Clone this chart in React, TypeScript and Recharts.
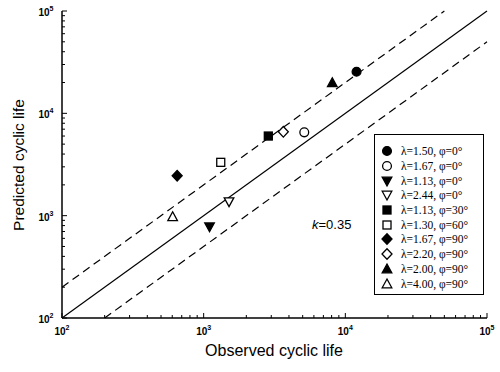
import React from 'react';
import { ScatterChart, Scatter, XAxis, YAxis, ReferenceLine } from 'recharts';

// one point per test condition
const lambdas = ['1.50', '1.67', '1.13', '2.44', '1.13', '1.30', '1.67', '2.20', '2.00', '4.00'];
const phis = [0, 0, 0, 0, 30, 60, 90, 90, 90, 90];
const observed = [12000, 5130, 1100, 1510, 2860, 1320, 650, 3650, 8090, 604];
const predicted = [25500, 6520, 780, 1370, 6000, 3320, 2450, 6600, 19900, 975];
const shapes = ['circle', 'circle', 'down', 'down', 'square', 'square', 'diamond', 'diamond', 'up', 'up'];
const filled = [true, false, true, false, true, false, true, false, true, false];

const majorTicks = [100, 1000, 10000, 100000];
const majorExp = ['2', '3', '4', '5'];
const allTicks: number[] = [];
majorTicks.forEach((d, i) => {
    allTicks.push(d);
    if (i < majorTicks.length - 1) for (let m = 2; m <= 9; m++) allTicks.push(d * m);
});

// y = x and factor-of-2 bands
const diagonal = [{ x: 100, y: 100 }, { x: 100000, y: 100000 }];
const upperBand = [{ x: 100, y: 200 }, { x: 50000, y: 100000 }];
const lowerBand = [{ x: 200, y: 100 }, { x: 100000, y: 50000 }];

const series = lambdas.map((l, i) => ({
    name: `λ=${l}, φ=${phis[i]}°`,
    data: [{ x: observed[i], y: predicted[i] }],
    shape: shapes[i],
    filled: filled[i],
}));

function Marker({ cx, cy, kind, fill }: { cx: number; cy: number; kind: string; fill: boolean }) {
    const p = { fill: fill ? '#000' : '#fff', stroke: '#000', strokeWidth: 1.3 };
    if (kind === 'circle') return <circle cx={cx} cy={cy} r={4.4} {...p} />;
    if (kind === 'square') return <rect x={cx - 4} y={cy - 4} width={8} height={8} {...p} />;
    if (kind === 'diamond')
        return <polygon points={`${cx},${cy - 5.3} ${cx + 5},${cy} ${cx},${cy + 5.3} ${cx - 5},${cy}`} {...p} />;
    if (kind === 'up')
        return <polygon points={`${cx},${cy - 5} ${cx + 4.8},${cy + 3.8} ${cx - 4.8},${cy + 3.8}`} {...p} />;
    return <polygon points={`${cx},${cy + 5} ${cx + 4.8},${cy - 3.8} ${cx - 4.8},${cy - 3.8}`} {...p} />;
}

const tickFont = { fontFamily: 'Liberation Sans, Arial, sans-serif', fontSize: 10, fontWeight: 700 };

function makeTick(side: 'bottom' | 'top' | 'left' | 'right') {
    return (props: any) => {
        const { x, y, payload } = props;
        const idx = majorTicks.indexOf(payload.value);
        const len = idx >= 0 ? 5 : 3;
        let line;
        if (side === 'bottom') line = <line x1={x} y1={y} x2={x} y2={y - len} stroke="#000" />;
        else if (side === 'top') line = <line x1={x} y1={y} x2={x} y2={y + len} stroke="#000" />;
        else if (side === 'left') line = <line x1={x} y1={y} x2={x + len} y2={y} stroke="#000" />;
        else line = <line x1={x} y1={y} x2={x - len} y2={y} stroke="#000" />;
        let label = null;
        if (idx >= 0 && side === 'bottom')
            label = (
                <text x={x} y={y + 17} textAnchor="middle" {...tickFont}>
                    10<tspan fontSize={7} dy={-5}>{majorExp[idx]}</tspan>
                </text>
            );
        if (idx >= 0 && side === 'left')
            label = (
                <text x={x - 16} y={y + 5} textAnchor="middle" {...tickFont}>
                    10<tspan fontSize={7} dy={-5}>{majorExp[idx]}</tspan>
                </text>
            );
        return (
            <g>
                {line}
                {label}
            </g>
        );
    };
}

const axisCommon = {
    type: 'number' as const,
    scale: 'log' as const,
    domain: [100, 100000],
    allowDataOverflow: true,
    ticks: allTicks,
    interval: 0,
    tickSize: 0,
    tickMargin: 0,
    tickLine: false,
    axisLine: { stroke: '#000', strokeWidth: 1.5 },
};

export default function App() {
    const sans = 'Liberation Sans, Arial, sans-serif';
    return (
        <div style={{ position: 'absolute', left: 0, top: 0, width: 500, height: 372, background: '#fff' }}>
            <ScatterChart width={500} height={372} margin={{ top: 11, right: 13, bottom: 14, left: 12 }}>
                <XAxis xAxisId="b" dataKey="x" orientation="bottom" height={40} {...axisCommon} tick={makeTick('bottom')} />
                <XAxis xAxisId="t" orientation="top" height={0} {...axisCommon} tick={makeTick('top')} />
                <YAxis yAxisId="l" dataKey="y" orientation="left" width={50} {...axisCommon} tick={makeTick('left')} />
                <YAxis yAxisId="r" orientation="right" width={0} {...axisCommon} tick={makeTick('right')} />
                <ReferenceLine xAxisId="b" yAxisId="l" segment={diagonal} stroke="#000" strokeWidth={1.2} />
                <ReferenceLine xAxisId="b" yAxisId="l" segment={upperBand} stroke="#000" strokeWidth={1.2} strokeDasharray="8 5" />
                <ReferenceLine xAxisId="b" yAxisId="l" segment={lowerBand} stroke="#000" strokeWidth={1.2} strokeDasharray="8 5" />
                {series.map((s) => (
                    <Scatter
                        key={s.name}
                        name={s.name}
                        xAxisId="b"
                        yAxisId="l"
                        data={s.data}
                        isAnimationActive={false}
                        shape={(p: any) => <Marker cx={p.cx} cy={p.cy} kind={s.shape} fill={s.filled} />}
                    />
                ))}
            </ScatterChart>

            <div
                style={{
                    position: 'absolute', left: 374, top: 134, width: 110, height: 161, boxSizing: 'border-box',
                    border: '1px solid #000', background: '#fff', paddingTop: 9,
                }}
            >
                {series.map((s) => (
                    <div key={s.name} style={{ height: 14.7, display: 'flex', alignItems: 'center' }}>
                        <svg width={24} height={14} style={{ flex: 'none' }}>
                            <Marker cx={12} cy={7} kind={s.shape} fill={s.filled} />
                        </svg>
                        <span style={{ fontFamily: 'Liberation Serif, Times New Roman, serif', fontSize: 11.5, marginLeft: 2, whiteSpace: 'nowrap' }}>
                            {s.name}
                        </span>
                    </div>
                ))}
            </div>

            <div style={{ position: 'absolute', left: 312, top: 217, fontFamily: sans, fontSize: 13 }}>
                <i>k</i>=0.35
            </div>
            <div style={{ position: 'absolute', left: 174, top: 342, width: 200, textAlign: 'center', fontFamily: sans, fontSize: 16 }}>
                Observed cyclic life
            </div>
            <div
                style={{
                    position: 'absolute', left: 19, top: 165, fontFamily: sans, fontSize: 15.5, whiteSpace: 'nowrap',
                    transform: 'translate(-50%, -50%) rotate(-90deg)',
                }}
            >
                Predicted cyclic life
            </div>
        </div>
    );
}
